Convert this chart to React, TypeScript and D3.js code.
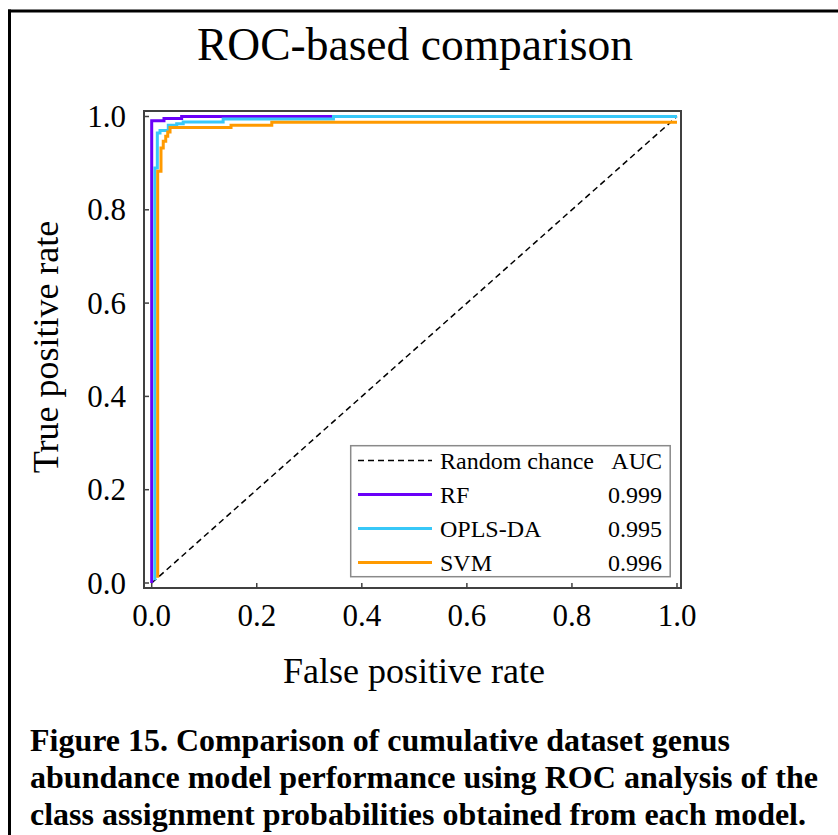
import React from "react";
import * as d3 from "d3";

// ---- data ----
const xTicks = [0, 0.2, 0.4, 0.6, 0.8, 1.0];
const yTicks = [0, 0.2, 0.4, 0.6, 0.8, 1.0];

const rfFpr = [0, 0, 0.0234, 0.057, 1];
const rfTpr = [0, 0.9907, 0.9957, 1.0, 1];

const oplsFpr = [0.006, 0.006, 0.0107, 0.0158, 0.0316, 0.0476, 0.06, 0.136, 0.346, 1];
const oplsTpr = [0.006, 0.8896, 0.9646, 0.97, 0.981, 0.9846, 0.988, 0.9946, 1.0, 1];

const svmFpr = [0.0114, 0.0114, 0.0177, 0.022, 0.0267, 0.0305, 0.0349, 0.151, 0.2286, 1];
const svmTpr = [0.011, 0.8826, 0.9325, 0.9468, 0.9575, 0.9668, 0.9765, 0.9815, 0.9875, 0.9875];

const chanceFpr = [0, 1];
const chanceTpr = [0, 1];

const seriesNames = ["RF", "OPLS-DA", "SVM"];
const seriesAuc = ["0.999", "0.995", "0.996"];
const seriesColors = ["#6a00f8", "#38c8f8", "#ff9a00"];

const captionLines = [
  "Figure 15. Comparison of cumulative dataset genus",
  "abundance model performance using ROC analysis of the",
  "class assignment probabilities obtained from each model.",
];
const captionWidths = [700, 788, 776];

const FONT = "'Liberation Serif', 'Times New Roman', Times, serif";

export default function App() {
  const x = d3.scaleLinear().domain([0, 1]).range([151.7, 677]);
  const y = d3.scaleLinear().domain([0, 1]).range([583, 116.5]);

  const frameX0 = 144, frameX1 = 681, frameY0 = 111, frameY1 = 588;

  const stepLine = d3
    .line<[number, number]>()
    .x((d) => x(d[0]))
    .y((d) => y(d[1]))
    .curve(d3.curveStepAfter);
  const straight = d3
    .line<[number, number]>()
    .x((d) => x(d[0]))
    .y((d) => y(d[1]));

  const zip = (a: number[], b: number[]) => a.map((v, i) => [v, b[i]] as [number, number]);
  const series = [zip(rfFpr, rfTpr), zip(oplsFpr, oplsTpr), zip(svmFpr, svmTpr)];

  const legX = 350.7, legY = 445.7, legW = 319.5, legH = 131;
  const rowY = (i: number) => 460.5 + i * 34;

  return (
    <svg
      width={838}
      height={835}
      style={{ position: "absolute", left: 0, top: 0, background: "#fff" }}
      fontFamily={FONT}
    >
      <rect x={0} y={0} width={838} height={835} fill="#fff" />
      {/* outer frame */}
      <line x1={8} y1={11} x2={838} y2={11} stroke="#000" strokeWidth={3} />
      <line x1={9.5} y1={9.5} x2={9.5} y2={835} stroke="#000" strokeWidth={3} />

      {/* title */}
      <text x={415} y={60} fontSize={46} textAnchor="middle" fill="#000" textLength={436} lengthAdjust="spacingAndGlyphs">
        ROC-based comparison
      </text>

      {/* chance line */}
      <path
        d={straight(zip(chanceFpr, chanceTpr)) || ""}
        fill="none"
        stroke="#000"
        strokeWidth={1.5}
        strokeDasharray="6,4"
      />

      {/* ROC curves */}
      {series.map((s, i) => (
        <path
          key={i}
          d={stepLine(s) || ""}
          fill="none"
          stroke={seriesColors[i]}
          strokeWidth={3}
          strokeLinejoin="miter"
        />
      ))}

      {/* plot frame */}
      <rect
        x={frameX0}
        y={frameY0}
        width={frameX1 - frameX0}
        height={frameY1 - frameY0}
        fill="none"
        stroke="#404040"
        strokeWidth={2}
      />

      {/* x ticks */}
      {xTicks.map((t) => (
        <g key={"x" + t}>
          <line x1={x(t)} x2={x(t)} y1={frameY1} y2={frameY1 - 5} stroke="#404040" strokeWidth={1.5} />
          <text x={x(t)} y={626} fontSize={31} textAnchor="middle" fill="#000">
            {t.toFixed(1)}
          </text>
        </g>
      ))}
      {/* y ticks */}
      {yTicks.map((t) => (
        <g key={"y" + t}>
          <line x1={frameX0} x2={frameX0 + 5} y1={y(t)} y2={y(t)} stroke="#404040" strokeWidth={1.5} />
          <text x={126} y={y(t)} dy="0.34em" fontSize={31} textAnchor="end" fill="#000">
            {t.toFixed(1)}
          </text>
        </g>
      ))}

      {/* axis titles */}
      <text x={414} y={683} fontSize={36} textAnchor="middle" fill="#000">
        False positive rate
      </text>
      <text
        transform={`translate(58,347) rotate(-90)`}
        fontSize={36}
        textAnchor="middle"
        fill="#000"
      >
        True positive rate
      </text>

      {/* legend */}
      <rect x={legX} y={legY} width={legW} height={legH} fill="#fff" stroke="#8a8a8a" strokeWidth={1.5} />
      <line x1={358} x2={432} y1={rowY(0)} y2={rowY(0)} stroke="#000" strokeWidth={1.5} strokeDasharray="6,4" />
      <text x={440} y={rowY(0) + 8} fontSize={24} fill="#000">
        Random chance
      </text>
      <text x={662} y={rowY(0) + 8} fontSize={24} textAnchor="end" fill="#000">
        AUC
      </text>
      {seriesNames.map((n, i) => (
        <g key={n}>
          <line
            x1={358}
            x2={432}
            y1={rowY(i + 1)}
            y2={rowY(i + 1)}
            stroke={seriesColors[i]}
            strokeWidth={3}
          />
          <text x={440} y={rowY(i + 1) + 8} fontSize={24} fill="#000">
            {n}
          </text>
          <text x={662} y={rowY(i + 1) + 8} fontSize={24} textAnchor="end" fill="#000">
            {seriesAuc[i]}
          </text>
        </g>
      ))}

      {/* caption */}
      {captionLines.map((l, i) => (
        <text
          key={i}
          x={30}
          y={751 + i * 37}
          fontSize={32}
          fontWeight="bold"
          fill="#000"
          textLength={captionWidths[i]}
          lengthAdjust="spacingAndGlyphs"
        >
          {l}
        </text>
      ))}
    </svg>
  );
}
